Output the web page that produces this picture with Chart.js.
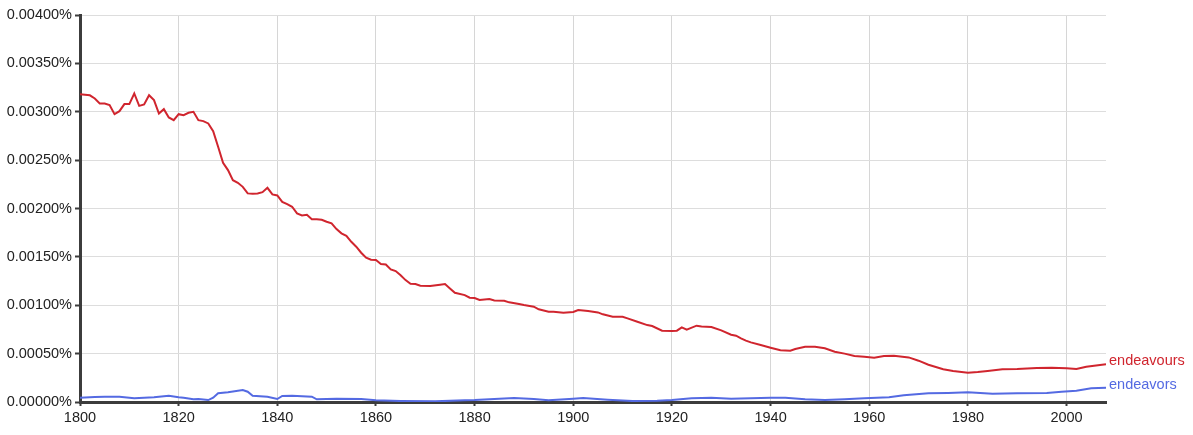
<!DOCTYPE html>
<html>
<head>
<meta charset="utf-8">
<script src="https://cdn.jsdelivr.net/npm/chart.js@4.4.0/dist/chart.umd.min.js"></script>
<style>
  html, body { margin: 0; padding: 0; background: #fff; }
  #wrap { width: 1193px; height: 435px; position: relative; }
</style>
</head>
<body>
<div id="wrap"><canvas id="c" width="1193" height="435"></canvas></div>
<script>
// ---- data (percent values) ----
const redYears = [1800,1802,1803,1804,1805,1806,1807,1808,1809,1810,1811,1812,1813,1814,1815,1816,1817,1818,1819,1820,1821,1822,1823,1824,1825,1826,1827,1828,1829,1830,1831,1832,1833,1834,1835,1836,1837,1838,1839,1840,1841,1842,1843,1844,1845,1846,1847,1848,1849,1850,1851,1852,1853,1854,1855,1856,1857,1858,1859,1860,1861,1862,1863,1864,1865,1866,1867,1868,1869,1871,1873,1874,1875,1876,1878,1879,1880,1881,1883,1884,1886,1887,1889,1890,1892,1893,1895,1896,1898,1900,1901,1903,1905,1906,1908,1910,1911,1913,1915,1916,1918,1920,1921,1922,1923,1925,1926,1928,1930,1932,1933,1934,1935,1936,1938,1940,1942,1944,1945,1947,1949,1951,1953,1955,1957,1959,1961,1963,1965,1968,1970,1972,1975,1977,1980,1982,1984,1987,1990,1994,1997,2000,2002,2004,2008];
const redValues = [0.00318,0.00317,0.003137,0.003086,0.003086,0.00307,0.002975,0.003006,0.003079,0.003079,0.003189,0.003061,0.003075,0.003171,0.00312,0.002982,0.003027,0.002941,0.002913,0.002975,0.002965,0.002989,0.002999,0.002913,0.002903,0.002879,0.0028,0.002638,0.002472,0.002397,0.002293,0.002266,0.002224,0.002156,0.002152,0.002156,0.002169,0.002214,0.002146,0.002135,0.002069,0.002045,0.002018,0.001949,0.001929,0.001936,0.00189,0.00189,0.001883,0.001863,0.001846,0.001787,0.001743,0.001718,0.001656,0.001605,0.001543,0.001491,0.00147,0.001467,0.001426,0.001422,0.001371,0.001353,0.00131,0.00126,0.001222,0.001219,0.001202,0.001198,0.001212,0.001219,0.001174,0.001129,0.001105,0.001078,0.001074,0.001054,0.001064,0.00105,0.001047,0.00103,0.001012,0.001002,0.000985,0.000958,0.000933,0.000933,0.000923,0.00093,0.00095,0.00094,0.000926,0.000906,0.000881,0.000881,0.000864,0.00083,0.000795,0.000785,0.000737,0.000733,0.000737,0.000771,0.000747,0.000789,0.00078,0.000775,0.00074,0.000695,0.000685,0.000658,0.000635,0.000616,0.000589,0.000561,0.000534,0.00053,0.000548,0.000571,0.000571,0.000555,0.00052,0.0005,0.000475,0.000468,0.000458,0.000475,0.000478,0.000461,0.000427,0.000385,0.000338,0.00032,0.000303,0.00031,0.00032,0.000338,0.000341,0.000351,0.000354,0.000348,0.000341,0.000365,0.00039];

const blueYears = [1800,1803,1805,1808,1811,1813,1815,1818,1820,1821,1823,1824,1826,1827,1828,1830,1833,1834,1835,1838,1840,1841,1843,1847,1848,1852,1857,1860,1865,1872,1878,1880,1884,1888,1892,1895,1900,1902,1907,1912,1917,1920,1924,1928,1932,1940,1943,1947,1951,1955,1959,1964,1967,1972,1976,1980,1985,1990,1996,1999,2002,2005,2008];
const blueValues = [0.000044,0.000052,0.000055,0.000055,0.00004,0.000045,0.000048,0.000065,0.00005,0.000044,0.000028,0.00003,0.00002,0.000044,0.00009,0.0001,0.000124,0.000106,0.000065,0.000055,0.000031,0.000062,0.000065,0.000055,0.000028,0.000034,0.000031,0.000017,0.00001,0.000007,0.000017,0.00002,0.000031,0.000041,0.000031,0.000017,0.000034,0.000041,0.000024,0.00001,0.000014,0.00002,0.000038,0.000044,0.000034,0.000044,0.000044,0.000028,0.00002,0.000028,0.000038,0.000048,0.000069,0.00009,0.000093,0.0001,0.000086,0.00009,0.000093,0.000106,0.000117,0.000141,0.000148];

const seriesNames = ["endeavours", "endeavors"];
const xTicks = [1800,1820,1840,1860,1880,1900,1920,1940,1960,1980,2000];
const yTicks = [0,0.0005,0.001,0.0015,0.002,0.0025,0.003,0.0035,0.004];

const RED = "rgb(208,37,46)";
const BLUE = "rgb(84,106,226)";
const FONT = '"Liberation Sans", Arial, sans-serif';

function pts(xs, ys) { return xs.map((x, i) => ({x: x, y: ys[i]})); }

const endLabels = {
  id: 'endLabels',
  afterDatasetsDraw(chart) {
    const ctx = chart.ctx;
    ctx.save();
    ctx.font = '14.5px ' + FONT;
    ctx.textBaseline = 'middle';
    ctx.textAlign = 'left';
    chart.data.datasets.forEach((ds, i) => {
      const meta = chart.getDatasetMeta(i);
      const p = meta.data[meta.data.length - 1];
      ctx.fillStyle = ds.borderColor;
      ctx.fillText(seriesNames[i], p.x + 3, p.y - 3);
    });
    ctx.restore();
  }
};

new Chart(document.getElementById('c'), {
  type: 'line',
  data: {
    datasets: [
      { label: seriesNames[0], data: pts(redYears, redValues), borderColor: RED, borderWidth: 2, pointRadius: 0, tension: 0, fill: false },
      { label: seriesNames[1], data: pts(blueYears, blueValues), borderColor: BLUE, borderWidth: 2, pointRadius: 0, tension: 0, fill: false }
    ]
  },
  options: {
    responsive: false,
    animation: false,
    devicePixelRatio: 1,
    layout: { padding: { top: 15, right: 87, left: 0, bottom: 0 } },
    plugins: { legend: { display: false }, tooltip: { enabled: false } },
    scales: {
      x: {
        type: 'linear',
        min: 1800, max: 2008,
        afterBuildTicks: (s) => { s.ticks = xTicks.map(v => ({value: v})); },
        afterFit: (s) => { s.height = 33; },
        border: { display: true, color: '#3c3c3c', width: 3 },
        grid: { color: '#d6d6d6', lineWidth: 1, drawTicks: true, tickLength: 4, tickColor: '#3c3c3c', tickWidth: 2 },
        ticks: { color: '#222', font: { size: 14.5, family: FONT }, padding: 3, maxRotation: 0, callback: (v) => String(v) }
      },
      y: {
        type: 'linear',
        min: 0, max: 0.004,
        afterBuildTicks: (s) => { s.ticks = yTicks.map(v => ({value: v})); },
        afterFit: (s) => { s.width = 80; },
        border: { display: true, color: '#3c3c3c', width: 3 },
        grid: { color: '#dddddd', lineWidth: 1, drawTicks: true, tickLength: 5, tickColor: '#3c3c3c', tickWidth: 2 },
        ticks: { color: '#222', font: { size: 14.5, family: FONT }, padding: 3, callback: (v) => v.toFixed(5) + '%' }
      }
    }
  },
  plugins: [endLabels]
});
</script>
</body>
</html>
